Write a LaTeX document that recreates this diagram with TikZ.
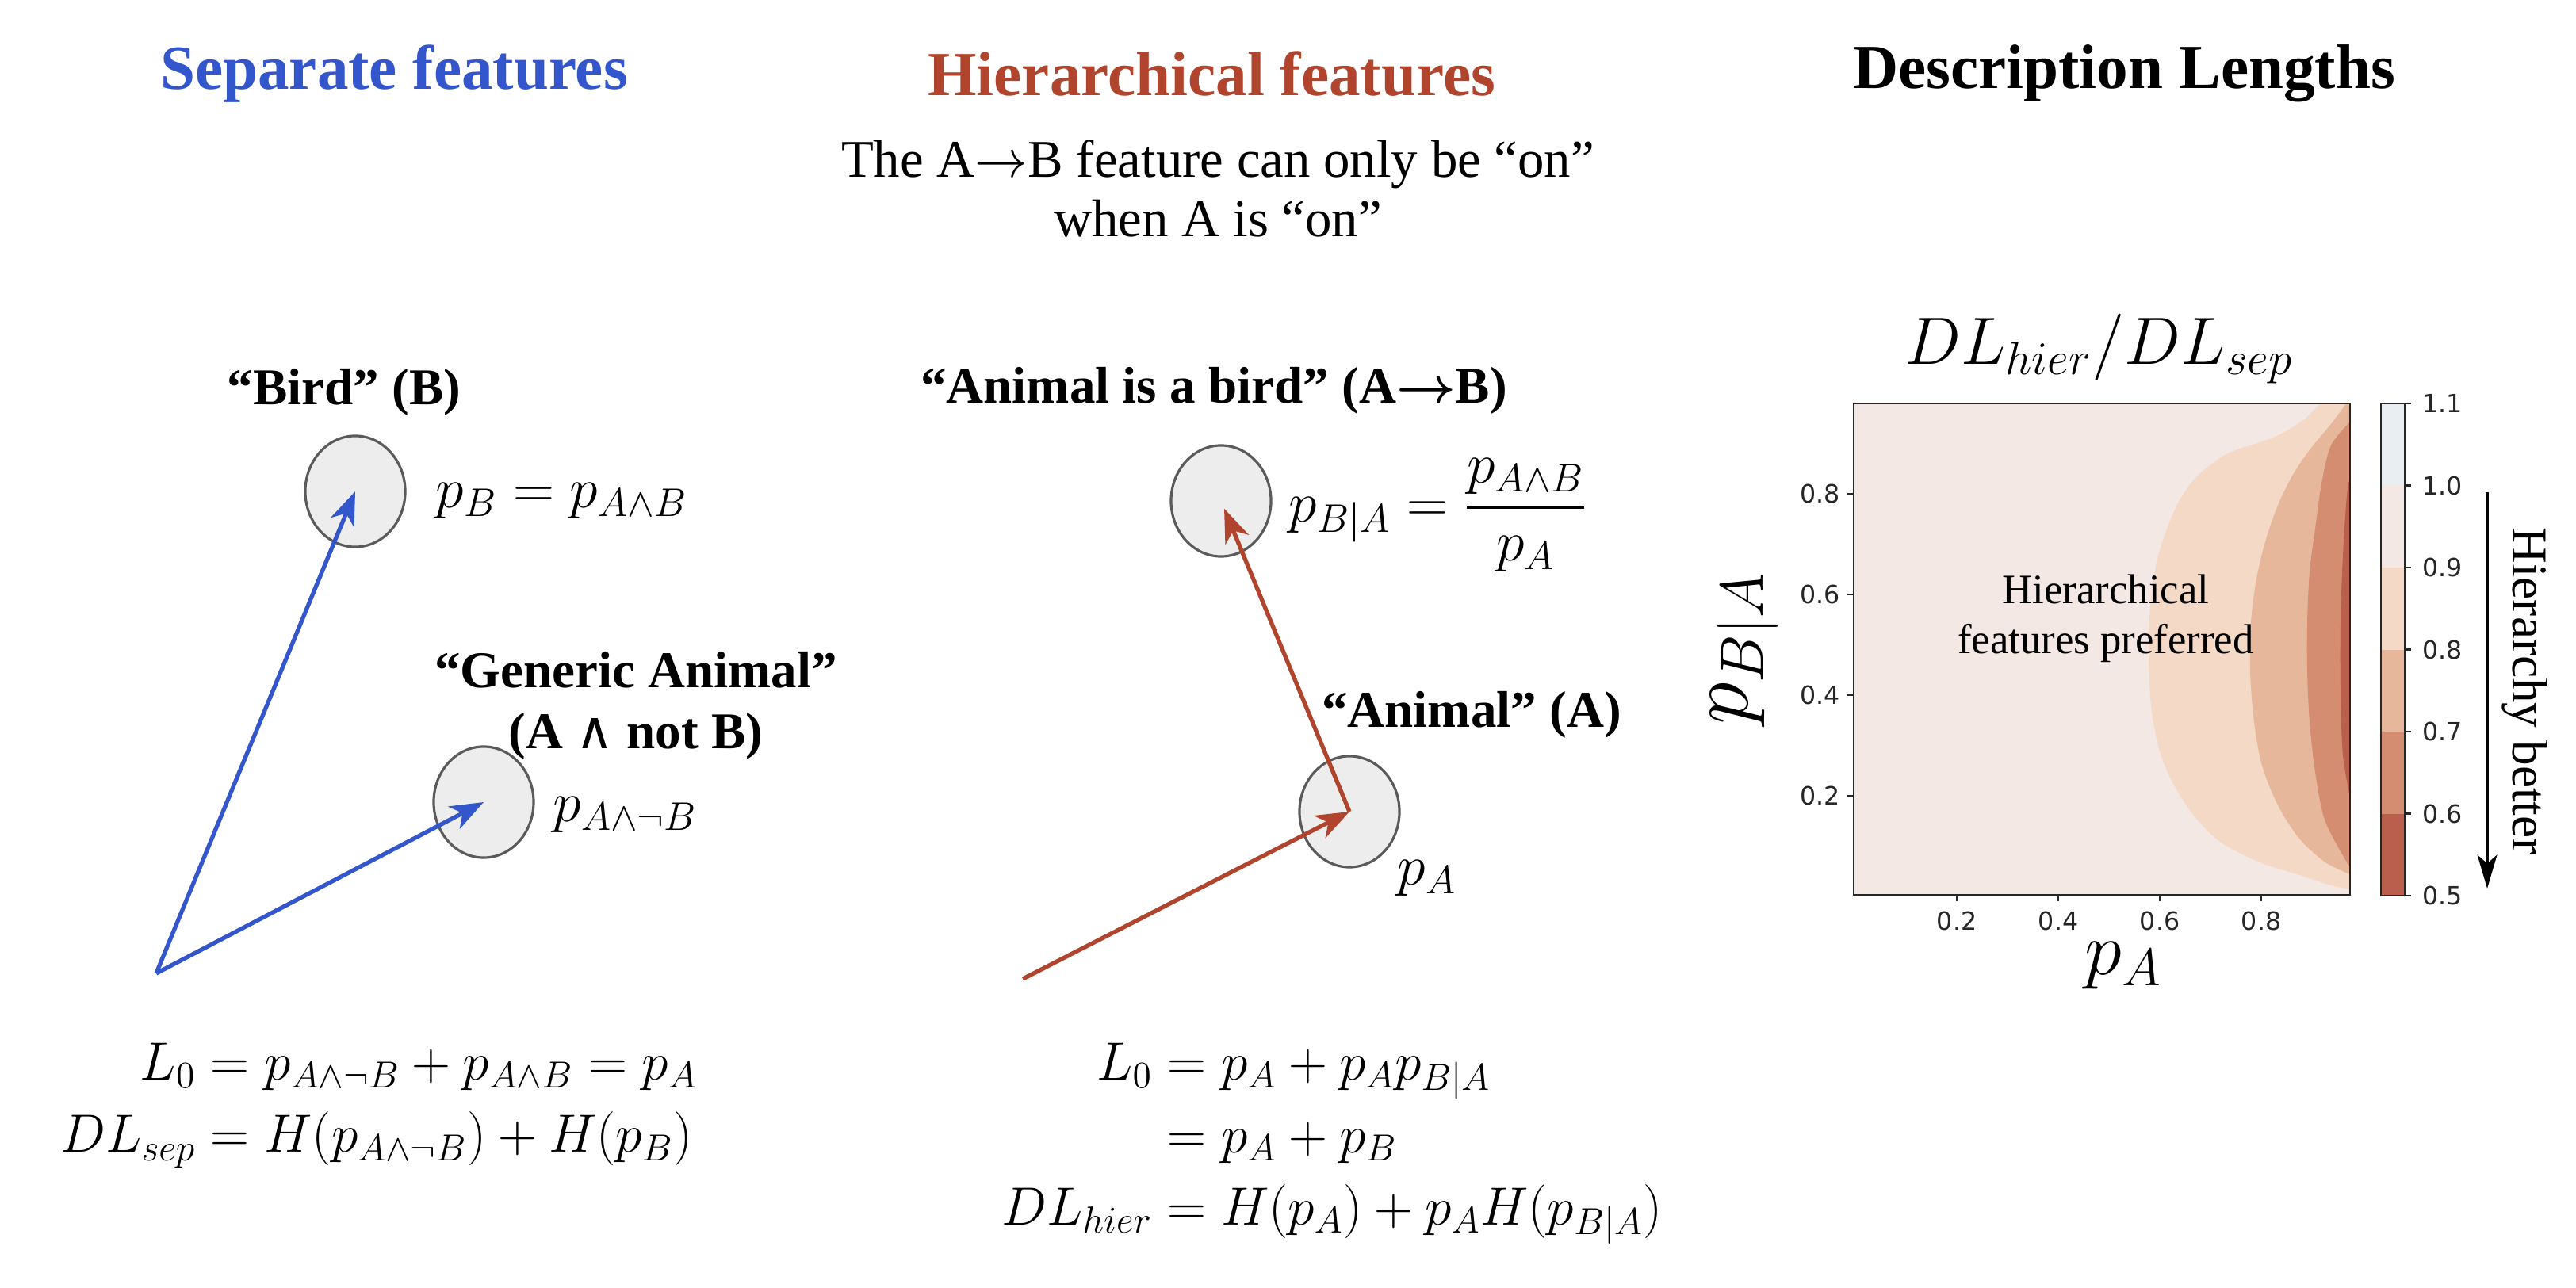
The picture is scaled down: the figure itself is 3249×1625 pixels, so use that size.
\RequirePackage{fix-cm}
\documentclass[tikz,border=0pt]{standalone}
\usepackage{amsmath}
\usepackage[no-math]{fontspec}
\setmainfont{Liberation Serif}
\newfontfamily\tickfont{DejaVu Sans}
\newfontfamily\wedgefont{DejaVu Serif}
\usetikzlibrary{arrows.meta,positioning,shapes.geometric}
\definecolor{sepblue}{RGB}{52,86,204}
\definecolor{hierrust}{RGB}{176,68,44}
\definecolor{circfill}{RGB}{237,237,237}
\definecolor{circborder}{RGB}{90,90,90}
\definecolor{axisdark}{RGB}{38,38,38}
\definecolor{lvtop}{RGB}{233,238,242}
\definecolor{lvnine}{RGB}{243,232,227}
\definecolor{lveight}{RGB}{244,217,198}
\definecolor{lvseven}{RGB}{230,183,155}
\definecolor{lvsix}{RGB}{212,141,112}
\definecolor{lvfive}{RGB}{186,95,78}
\newcommand{\txtarrow}{\ensuremath{\rightarrow}}
\newcommand{\tallwedge}{{\wedgefont\mdseries ∧}}

\begin{document}
\begin{tikzpicture}[x=0.01cm, y=-0.01cm,
    feat/.style={ellipse, draw=circborder, fill=circfill, line width=0.9pt, minimum width=1.26cm, minimum height=1.4cm, inner sep=0pt},
    sectitle/.style={font=\fontsize{22.5}{27}\selectfont\bfseries},
    featlbl/.style={font=\fontsize{18.5}{23}\selectfont\bfseries\boldmath, align=center, inner sep=0pt},
    mathlbl/.style={font=\fontsize{20.5}{25}\selectfont, inner sep=0pt},
    eqblock/.style={font=\fontsize{19.3}{23}\selectfont},
    sepvec/.style={-{Stealth[length=12pt,width=9pt,inset=3.5pt]}, color=sepblue, line width=1.5pt},
    hiervec/.style={-{Stealth[length=12pt,width=9pt,inset=3.5pt]}, color=hierrust, line width=1.5pt},
    ticklbl/.style={font=\tickfont\fontsize{9}{11}\selectfont, text=axisdark, inner sep=0pt},
    axisline/.style={draw=axisdark, line width=0.8pt}]
    \useasboundingbox (0,0) rectangle (3249,1625);
    % Column titles
    \node[sectitle, text=sepblue] (septitle) at (497,93) {Separate features};
    \node[sectitle, text=hierrust] (hiertitle) at (1528,93) {Hierarchical features};
    \node[sectitle] (dltitle) at (2679,93) {Description Lengths};
    \node[font=\fontsize{19}{21.3}\selectfont, align=center] (hiernote) at (1536,238) {The A\txtarrow B feature can only be “on”\\when A is “on”};
    % Separate features: two independent directions
    \node[feat] (bird) at (448,620) {};
    \node[feat] (generic) at (610,1012) {};
    \node[featlbl] (birdlbl) at (434,495) {“Bird” (B)};
    \node[featlbl] (genericlbl) at (802,845) {“Generic Animal”};
    \node[featlbl] (genericsub) at (802,929) {(A \tallwedge\ not B)};
    \node[mathlbl, anchor=west] (pbird) at (549,632) {$p_B=p_{A\wedge B}$};
    \node[mathlbl, anchor=west] (pgeneric) at (697,1028) {$p_{A\wedge\neg B}$};
    \coordinate (seporigin) at (197,1228);
    \draw[sepvec] (seporigin) -- (bird.center);
    \draw[sepvec] (seporigin) -- (generic.center);
    % Hierarchical features: A, then A->B on top of it
    \node[feat] (birdof) at (1540,632) {};
    \node[feat] (animal) at (1702,1024) {};
    \node[featlbl] (birdoflbl) at (1531,493) {“Animal is a bird” (A\txtarrow B)};
    \node[featlbl] (animallbl) at (1856,902) {“Animal” (A)};
    \node[mathlbl, anchor=west] (pbirdof) at (1625,650) {$p_{B|A}=\dfrac{p_{A\wedge B}}{p_A}$};
    \node[mathlbl] (panimal) at (1800,1108) {$p_A$};
    \coordinate (hierorigin) at (1290,1235);
    \draw[hiervec] (hierorigin) -- (animal.center);
    \draw[hiervec, shorten >=3pt] (animal.center) -- (birdof.center);
    % Description length equations
    \node[eqblock] (sepeq) at (478,1392) {$\begin{aligned} L_0 &= p_{A\wedge\neg B}+p_{A\wedge B}=p_A\\ DL_{sep} &= H(p_{A\wedge\neg B})+H(p_B)\end{aligned}$};
    \node[eqblock] (hiereq) at (1680,1438) {$\begin{aligned} L_0 &= p_A+p_Ap_{B|A}\\ &= p_A+p_B\\ DL_{hier} &= H(p_A)+p_AH(p_{B|A})\end{aligned}$};
    % Contour plot of the ratio
    \begin{scope}
        \clip (2338,509) rectangle (2964,1129);
        \fill[lvnine] (2338,509) rectangle (2964,1129);
        \fill[lveight] plot[smooth] coordinates {(2930,505) (2905,530) (2867,552) (2810,572) (2773,599) (2750,629) (2733,667) (2720,709) (2712,764) (2710,827) (2713,890) (2723,945) (2740,987) (2767,1029) (2800,1062) (2850,1088) (2900,1104) (2940,1117) (2966,1122)} -- (2990,1122) -- (2990,505) -- cycle;
        \fill[lvseven] plot[smooth] coordinates {(2962,505) (2940,535) (2915,565) (2893,597) (2874,635) (2858,680) (2846,730) (2839,785) (2838,848) (2843,911) (2853,966) (2873,1016) (2900,1058) (2933,1088) (2966,1104)} -- (2990,1104) -- (2990,505) -- cycle;
        \fill[lvsix] plot[smooth] coordinates {(2966,530) (2940,562) (2928,610) (2920,667) (2913,721) (2910,785) (2910,848) (2913,911) (2920,974) (2933,1037) (2966,1098)} -- (2990,1098) -- (2990,530) -- cycle;
        \fill[lvfive] plot[smooth] coordinates {(2966,591) (2960,625) (2955,700) (2952,785) (2952,869) (2955,953) (2966,1016)} -- (2990,1016) -- (2990,591) -- cycle;
    \end{scope}
    \draw[axisline] (2338,509) rectangle (2964,1129);
    \foreach \v/\px in {0.2/2468,0.4/2596,0.6/2724,0.8/2852} {
        \draw[axisline] (\px,1129) -- (\px,1137);
        \node[ticklbl] at (\px,1162) {\v};
    }
    \foreach \v/\py in {0.2/1004,0.4/877,0.6/750,0.8/623} {
        \draw[axisline] (2338,\py) -- (2330,\py);
        \node[ticklbl, anchor=east] at (2321,\py) {\v};
    }
    \node[font=\fontsize{24}{28}\selectfont] (ratiotitle) at (2647,440) {$DL_{hier}/DL_{sep}$};
    \node[font=\fontsize{27}{30}\selectfont] (xlbl) at (2678,1218) {$p_A$};
    \node[font=\fontsize{31}{34}\selectfont, rotate=90] (ylbl) at (2200,818) {$p_{B|A}$};
    \node[font=\fontsize{15}{18}\selectfont, align=center] (preflbl) at (2656,780) {Hierarchical\\features preferred};
    % Colour bar
    \foreach \c [count=\i from 0] in {lvtop,lvnine,lveight,lvseven,lvsix,lvfive}
        \fill[\c] (3003,{509+103.5*\i}) rectangle (3033,{509+103.5*(\i+1)});
    \draw[axisline] (3003,509) rectangle (3033,1130);
    \foreach \v [count=\i from 0] in {1.1,1.0,0.9,0.8,0.7,0.6,0.5} {
        \draw[axisline] (3033,{509+103.5*\i}) -- (3041,{509+103.5*\i});
        \node[ticklbl, anchor=west] at (3055,{509+103.5*\i}) {\v};
    }
    % Hierarchy better arrow
    \coordinate (hbstart) at (3137,621);
    \coordinate (hbend) at (3137,1121);
    \draw[-{Stealth[length=12pt,width=7pt,inset=3pt]}, line width=1.3pt] (hbstart) -- (hbend);
    \node[font=\fontsize{18}{20}\selectfont, rotate=-90] (hblbl) at (3185,872) {Hierarchy better};
\end{tikzpicture}
\end{document}
